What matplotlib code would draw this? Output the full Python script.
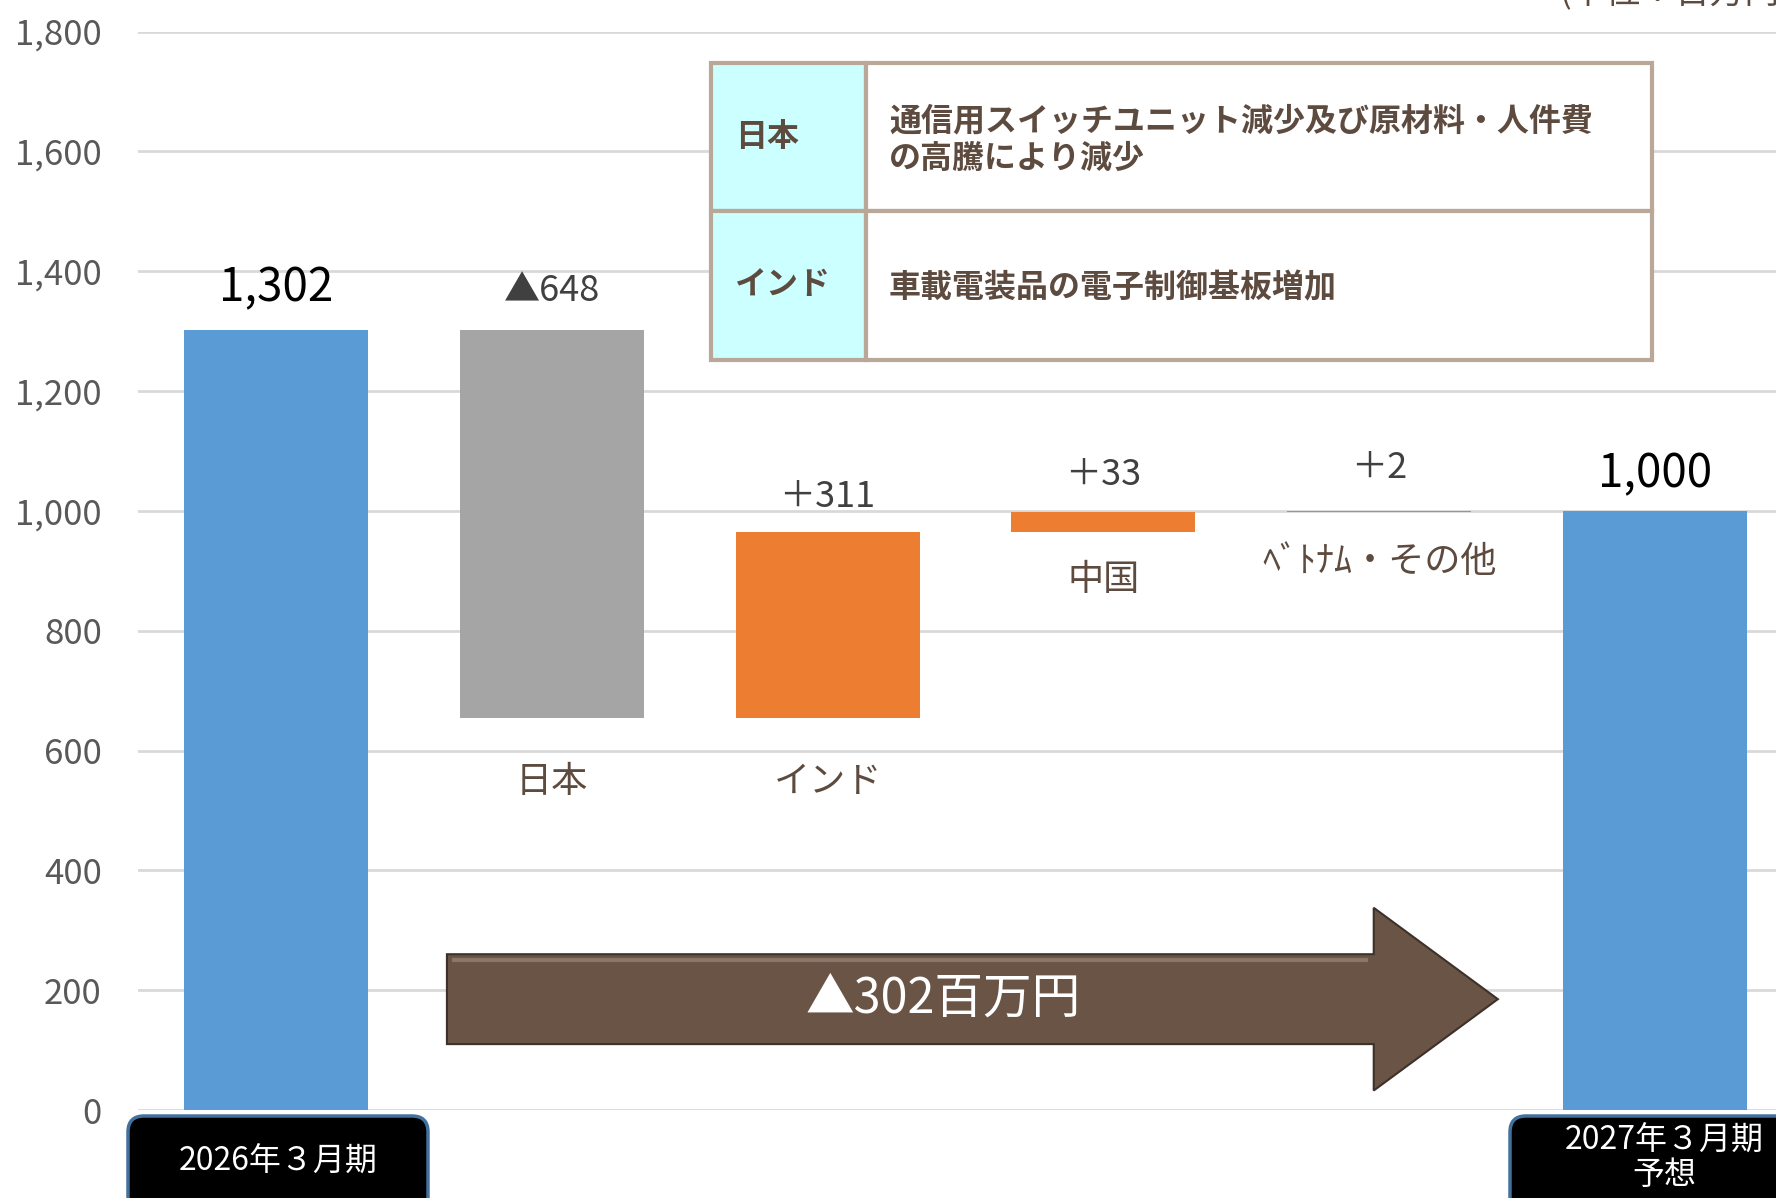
import matplotlib
matplotlib.use('Agg')
import matplotlib.pyplot as plt
from matplotlib.patches import Rectangle, FancyBboxPatch, FancyArrow

plt.rcParams['font.family'] = ['Noto Sans CJK JP', 'DejaVu Sans']

# データ（単位：百万円）
inicio = 1302
fin = 1000
regiones = ['日本', 'インド', '中国', 'ﾍﾞﾄﾅﾑ・その他']
cambios = [-648, 311, 33, 2]
periodos = ['2026年３月期', '2027年３月期\n予想']
ticks_y = [0, 200, 400, 600, 800, 1000, 1200, 1400, 1600, 1800]
tabla_filas = ['日本', 'インド']
tabla_textos = ['通信用スイッチユニット減少及び原材料・人件費\nの高騰により減少',
                '車載電装品の電子制御基板増加']
total_texto = '▲302百万円'

AZUL = '#5B9BD5'
GRIS = '#A5A5A5'
NARANJA = '#ED7D31'
MARRON = '#5E4B3F'

fig = plt.figure(figsize=(17.76, 11.98), dpi=100)
ax = fig.add_axes([138 / 1776, 1 - 1110 / 1198, 1 - 138 / 1776, (1110 - 31.5) / 1198])

# calcular las barras flotantes
x = list(range(len(regiones) + 2))
bottoms = [0]
heights = [inicio]
colores = [AZUL]
acum = inicio
for c in cambios:
    if c < 0:
        bottoms.append(acum + c)
        heights.append(-c)
        colores.append(GRIS)
    else:
        bottoms.append(acum)
        heights.append(c)
        colores.append(NARANJA)
    acum += c
bottoms.append(0)
heights.append(fin)
colores.append(AZUL)

ax.bar(x, heights, bottom=bottoms, width=0.667, color=colores, zorder=3)

# etiquetas de valor
ax.annotate(f'{inicio:,}', (x[0], inicio), xytext=(0, 13), textcoords='offset points',
            ha='center', va='bottom', fontsize=33, color='black')
ax.annotate(f'{fin:,}', (x[-1], fin), xytext=(0, 9), textcoords='offset points',
            ha='center', va='bottom', fontsize=33, color='black')
desp_valor = [15, 12, 14, 18]
desp_region = [46, 46, 35, 36]
for i, c in enumerate(cambios):
    xi = x[i + 1]
    top = bottoms[i + 1] + heights[i + 1]
    texto = f'▲{abs(c)}' if c < 0 else f'＋{c}'
    ax.annotate(texto, (xi, top), xytext=(0, desp_valor[i]), textcoords='offset points',
                ha='center', va='bottom', fontsize=26, color='#404040')
    ax.annotate(regiones[i], (xi, bottoms[i + 1]), xytext=(0, -desp_region[i]),
                textcoords='offset points', ha='center', va='center', fontsize=26,
                color=MARRON)

ax.set_ylim(0, 1800)
ax.set_xlim(-0.5, (1776 - 275) / 276)
ax.set_yticks(ticks_y)
ax.set_yticklabels([f'{t:,}' for t in ticks_y], fontsize=25, color='#595959')
ax.tick_params(axis='y', length=0, pad=26)
ax.set_xticks([])
ax.yaxis.grid(True, color='#D9D9D9', linewidth=2, zorder=0)
for s in ax.spines.values():
    s.set_visible(False)

# flecha del total
ax.add_patch(FancyArrow(0.62, 185, 3.81, 0, width=150, head_width=305, head_length=0.45,
                        length_includes_head=True, facecolor='#6A5446', edgecolor='#3E3129',
                        linewidth=1.5, zorder=4))
ax.plot([0.64, 3.96], [250, 250], color='#8C7668', linewidth=3, zorder=4.5,
        solid_capstyle='butt')
ax.text(2.42, 185, total_texto, ha='center', va='center', fontsize=35, color='white', zorder=5)

# tabla explicativa (pixeles)
px = fig.dpi_scale_trans
def P(v):
    return v / 100.0

borde = '#B9A798'
tx0, tx1, tsplit = 711, 1652, 866
ty0, ty1, tymid = 63, 360, 211
H = 1198
filas_y = [(ty0, tymid), (tymid, ty1)]
for (a, b), cab, txt in zip(filas_y, tabla_filas, tabla_textos):
    fig.add_artist(Rectangle((P(tx0), P(H - b)), P(tsplit - tx0), P(b - a), transform=px,
                             facecolor='#CCFFFF', edgecolor=borde, linewidth=3))
    fig.add_artist(Rectangle((P(tsplit), P(H - b)), P(tx1 - tsplit), P(b - a), transform=px,
                             facecolor='white', edgecolor=borde, linewidth=3))
    yc = P(H - (a + b) / 2)
    fig.text(P(735), yc, cab, transform=px, ha='left', va='center', fontsize=23,
             fontweight='bold', color=MARRON)
    fig.text(P(889), yc - P(3), txt, transform=px, ha='left', va='center', fontsize=23,
             fontweight='bold', color=MARRON, linespacing=1.22)

# unidad
fig.text(P(1560), P(H + 8), '(単位：百万円)', transform=px, ha='left', va='center',
         fontsize=25, color=MARRON)

# cajas de periodos
cajas = [(128, 428, 1162), (1510, 1800, 1158)]
desp_x = [0, 9]
for (a, b, yc), lab, dx in zip(cajas, periodos, desp_x):
    fig.add_artist(FancyBboxPatch((P(a), P(-40)), P(b - a), P(H - 1116 + 40), transform=px,
                                  boxstyle='round,pad=0,rounding_size=0.16',
                                  facecolor='black', edgecolor='#41719C', linewidth=2.5))
    fig.text(P((a + b) / 2 + dx), P(H - yc), lab, transform=px, ha='center', va='center',
             fontsize=23, color='white', linespacing=1.08)

fig.savefig('out.png', dpi=100)
